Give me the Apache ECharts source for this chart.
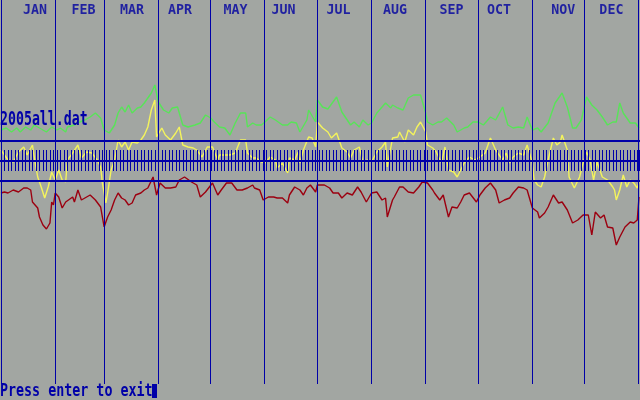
<!DOCTYPE html>
<html>
<head>
<meta charset="utf-8">
<script src="https://cdn.jsdelivr.net/npm/echarts@6/dist/echarts.min.js"></script>
<style>
html,body{margin:0;padding:0;background:#a2a6a2;}
#chart{width:640px;height:400px;}
</style>
</head>
<body>
<div id="chart"></div>
<script>
// Month names and where they sit (day of year)
const months = ['JAN','FEB','MAR','APR','MAY','JUN','JUL','AUG','SEP','OCT','NOV','DEC'];
const monthStartDays = [0,31,59,90,120,151,181,212,243,273,304,334,365];
const monthLabelDays = [19.5,47.2,74.9,102.4,134.1,161.6,193.1,225.4,257.7,284.9,321.7,349.2];
const bandLevels = [20, 0, -20];
const fileTitle = '2005all.dat';
const promptText = 'Press enter to exit';

// [day of year, value]
const greenSeries = [[0,31],[3,33],[6,29],[9,33],[11,29],[14,34],[17,31],[19,36],[22,33],[26,29],[29,34],[32,31],[34,33],[37,29],[38,34],[42,36],[45,39],[48,41],[51,44],[54,48],[57,43],[59,31],[62,28],[65,36],[67,48],[69,54],[71,49],[73,56],[75,48],[78,53],[80,54],[82,58],[84,63],[86,68],[88,76],[90,59],[93,51],[96,48],[98,53],[101,54],[104,36],[107,34],[111,36],[114,38],[117,46],[120,43],[122,39],[125,34],[128,33],[131,26],[134,38],[137,48],[140,48],[141,34],[144,38],[146,36],[149,36],[151,39],[154,44],[157,41],[161,36],[164,36],[166,39],[169,38],[171,29],[172,28],[175,41],[176,51],[180,39],[181,61],[184,54],[187,52],[192,64],[195,49],[200,36],[202,39],[205,34],[207,41],[210,36],[212,38],[215,48],[220,58],[223,53],[224,56],[227,53],[230,51],[233,63],[236,66],[240,66],[243,48],[244,39],[247,36],[250,39],[252,39],[255,43],[259,36],[261,29],[265,33],[267,34],[270,39],[273,39],[276,36],[280,44],[283,41],[284,43],[287,54],[290,36],[293,33],[296,34],[299,33],[301,44],[304,31],[307,33],[309,29],[313,38],[317,58],[321,68],[324,54],[327,33],[329,33],[332,41],[335,64],[338,56],[341,51],[344,44],[347,36],[350,39],[352,39],[354,58],[356,48],[360,38],[363,38],[365,33]];

const yellowSeries = [[0,11],[1,9],[4,1],[7,-1],[10,9],[13,14],[15,6],[18,16],[19,4],[21,-16],[23,-26],[25,-37],[27,-26],[29,-11],[31,-19],[33,-9],[35,-19],[37,-21],[38,1],[41,8],[42,9],[44,16],[46,3],[49,9],[52,8],[55,1],[57,-6],[58,-22],[60,-42],[61,-32],[63,-9],[65,1],[67,21],[69,14],[71,19],[73,11],[75,19],[78,18],[80,21],[82,26],[84,34],[86,51],[88,61],[89,24],[92,33],[94,26],[97,21],[100,28],[102,34],[104,16],[107,14],[110,13],[112,11],[115,4],[118,14],[121,14],[124,1],[125,6],[128,6],[131,6],[134,8],[137,21],[140,21],[141,8],[144,3],[146,3],[149,-1],[151,-2],[154,4],[157,1],[158,-7],[161,-2],[164,-12],[165,3],[168,1],[170,9],[171,-2],[173,11],[176,24],[178,23],[180,14],[181,39],[184,33],[187,29],[189,23],[192,28],[195,13],[198,9],[200,3],[202,11],[205,14],[207,-1],[210,1],[212,-1],[215,9],[218,14],[220,19],[221,-6],[224,23],[227,24],[228,29],[231,19],[233,31],[236,26],[238,34],[240,39],[243,29],[244,16],[247,13],[249,9],[252,-2],[254,14],[256,-9],[259,-11],[261,-16],[263,-9],[265,-2],[268,4],[271,1],[274,4],[277,8],[280,23],[283,11],[284,13],[287,1],[289,8],[291,-2],[293,4],[296,8],[299,6],[301,16],[304,-2],[305,-19],[307,-24],[309,-26],[311,-16],[313,1],[316,23],[318,16],[320,19],[321,26],[324,11],[325,-16],[328,-27],[331,-16],[333,-2],[335,9],[337,1],[339,-19],[341,-1],[343,-11],[344,-16],[347,-19],[350,-26],[351,-29],[352,-39],[354,-29],[356,-14],[358,-26],[360,-19],[362,-22],[364,-27],[365,-21]];

const redSeries = [[0,-32],[2,-31],[4,-32],[7,-29],[10,-31],[13,-27],[15,-27],[17,-29],[18,-41],[21,-47],[22,-56],[24,-64],[26,-68],[28,-62],[29,-41],[30,-44],[31,-32],[33,-36],[35,-47],[37,-41],[38,-42],[41,-36],[42,-41],[44,-29],[46,-39],[48,-37],[51,-34],[54,-39],[57,-46],[58,-56],[59,-66],[61,-56],[63,-49],[65,-39],[67,-32],[69,-37],[71,-39],[73,-44],[75,-42],[77,-34],[80,-32],[82,-29],[84,-27],[87,-16],[89,-34],[91,-22],[94,-27],[97,-27],[100,-26],[102,-19],[105,-16],[109,-21],[112,-24],[114,-36],[117,-31],[118,-32],[121,-22],[124,-34],[126,-29],[129,-22],[132,-22],[135,-29],[138,-29],[141,-27],[144,-24],[145,-27],[148,-29],[150,-39],[153,-36],[156,-36],[158,-37],[161,-37],[164,-42],[165,-34],[168,-26],[171,-29],[173,-34],[175,-27],[177,-24],[180,-31],[181,-24],[185,-24],[188,-27],[190,-32],[193,-32],[195,-37],[198,-32],[201,-34],[204,-26],[206,-31],[209,-41],[212,-32],[215,-31],[218,-39],[220,-37],[221,-56],[224,-39],[225,-36],[228,-26],[230,-26],[233,-31],[236,-32],[239,-26],[241,-21],[244,-22],[247,-29],[248,-32],[251,-39],[253,-34],[256,-56],[258,-46],[261,-47],[263,-41],[265,-34],[268,-32],[272,-41],[274,-34],[277,-27],[280,-22],[283,-29],[285,-42],[288,-39],[291,-37],[293,-32],[296,-26],[299,-27],[301,-29],[304,-47],[307,-51],[308,-57],[311,-52],[313,-46],[316,-34],[319,-42],[321,-41],[324,-49],[327,-62],[330,-59],[333,-54],[336,-54],[338,-74],[340,-51],[343,-57],[345,-54],[347,-66],[350,-67],[352,-84],[354,-76],[357,-66],[360,-61],[362,-62],[364,-59],[365,-36]];

const BLUE = '#0000a8';
const MONO = '"DejaVu Sans Mono", "Liberation Mono", monospace';

const chart = echarts.init(document.getElementById('chart'), null, {renderer: 'canvas'});

const tickAxis = (inside, len) => ({
  type: 'value', min: 0, max: 365, interval: 2, position: 'bottom', z: 5,
  axisLine: {show: false, onZero: true, onZeroAxisIndex: 0},
  axisTick: {show: true, inside: inside, length: len, lineStyle: {color: BLUE, width: 1}},
  axisLabel: {show: false}, splitLine: {show: false}
});

const lineSeries = (data, color) => ({
  type: 'line', data: data, showSymbol: false, symbol: 'none', z: 2,
  lineStyle: {color: color, width: 1.4}
});

chart.setOption({
  backgroundColor: '#a2a6a2',
  animation: false,
  grid: {left: 1, right: 1, top: 0, bottom: 16, containLabel: false},
  xAxis: [
    {type: 'value', min: 0, max: 365, show: false, axisLine: {onZero: false}, splitLine: {show: false}},
    tickAxis(true, 11),
    tickAxis(false, 10)
  ],
  yAxis: {type: 'value', min: -223, max: 161, show: false, splitLine: {show: false}},
  series: [
    lineSeries(greenSeries, '#58e458'),
    lineSeries(yellowSeries, '#f4f45c'),
    lineSeries(redSeries, '#9c0010'),
    {
      // month boundary lines
      type: 'custom', z: 4, silent: true,
      data: monthStartDays.map(d => [d]),
      encode: {x: 0},
      renderItem: function (params, api) {
        const p = api.coord([api.value(0), 0]);
        const cs = params.coordSys;
        const x = Math.min(Math.floor(p[0]), cs.x + cs.width - 1) + 0.5;
        return {type: 'line', shape: {x1: x, y1: cs.y, x2: x, y2: cs.y + cs.height},
          style: {stroke: BLUE, lineWidth: 1}};
      }
    },
    {
      // horizontal band lines
      type: 'custom', z: 4, silent: true,
      data: bandLevels.map(v => [v]),
      encode: {y: 0},
      renderItem: function (params, api) {
        const p = api.coord([0, api.value(0)]);
        const y = Math.round(p[1]);
        return {type: 'line', shape: {x1: 0, y1: y, x2: 640, y2: y},
          style: {stroke: BLUE, lineWidth: 2}};
      }
    },
    {
      type: 'scatter', symbolSize: 0, z: 6, silent: true,
      data: monthLabelDays.map((d, i) => ({value: [d, 150.3], name: months[i]})),
      label: {show: true, position: 'inside', formatter: '{b}', color: '#0000a0',
        fontFamily: MONO, fontWeight: 'bold', fontSize: 13.3}
    }
  ],
  graphic: [
    {type: 'text', x: 0, y: 120, scaleX: 0.69, z: 10,
      style: {text: fileTitle, x: 0, y: 0, fill: BLUE, font: 'bold 19.2px ' + MONO, verticalAlign: 'middle', align: 'left'}},
    {type: 'text', x: 0, y: 391.5, scaleX: 0.75, z: 10,
      style: {text: promptText, x: 0, y: 0, fill: BLUE, font: 'bold 17.8px ' + MONO, verticalAlign: 'middle', align: 'left'}},
    {type: 'rect', x: 0, y: 0, z: 10, shape: {x: 152, y: 384, width: 5, height: 14}, style: {fill: BLUE}}
  ]
});
</script>
</body>
</html>
